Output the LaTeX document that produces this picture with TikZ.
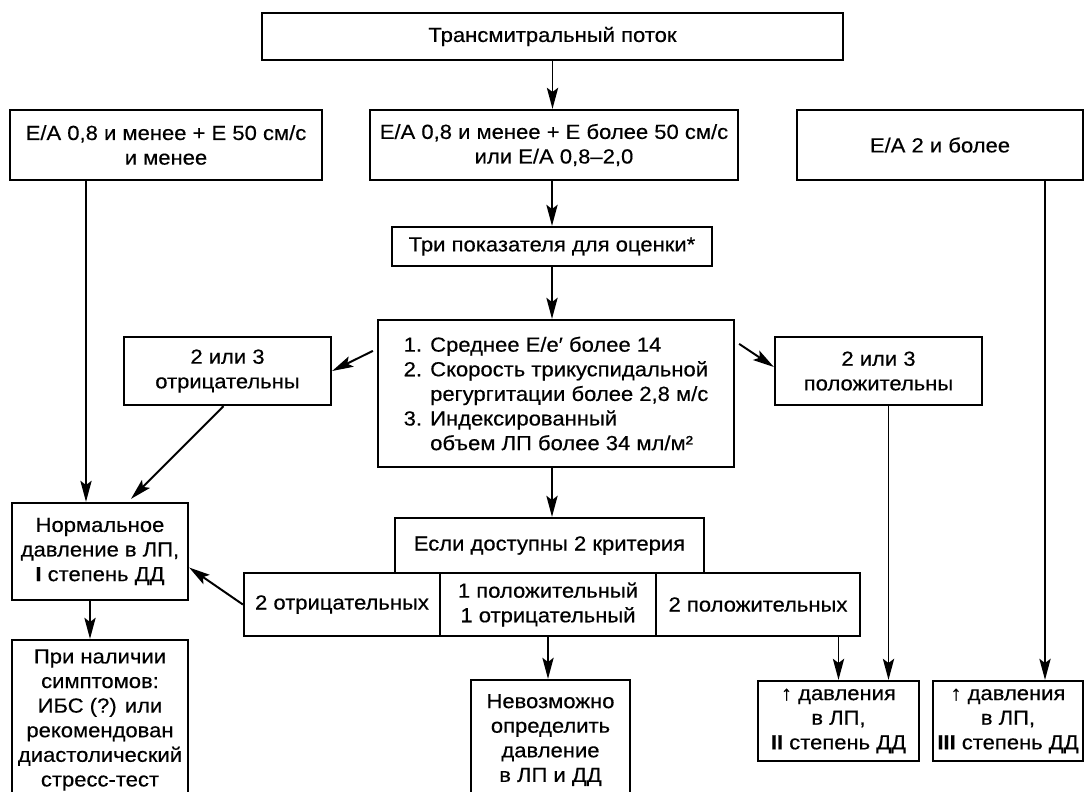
\documentclass[tikz,border=0pt]{standalone}
\usepackage{fontspec}
\setmainfont{Liberation Sans}[FakeStretch=1.08,FakeBold=0.4]
\usetikzlibrary{arrows.meta,calc}

\begin{document}
\begin{tikzpicture}[
    x=0.025cm, y=-0.025cm,
    box/.style={draw, line width=1.6pt, align=center, inner sep=1pt,
        font=\fontsize{14.5}{17.5}\selectfont},
    dims/.style 2 args={minimum width=#1*0.025cm, minimum height=#2*0.025cm},
    arr/.style={line width=1.4pt, -{Stealth[length=15pt,width=8pt,inset=3pt]}}
]
\useasboundingbox (0,0) rectangle (1085,791);
\clip (0,0) rectangle (1085,791);

% Top
\node[box, dims={581}{47}] (flow) at (552.5,36.5) {Трансмитральный поток};

% E/A groups
\node[box, dims={312}{70}] (lowEA) at (166,145) {E/A 0,8 и менее + E 50 см/с\\и менее};
\node[box, dims={368}{70}] (midEA) at (554,145) {E/A 0,8 и менее + E более 50 см/с\\или E/A 0,8–2,0};
\node[box, dims={286}{70}] (highEA) at (940,145) {E/A 2 и более};

% Three indices
\node[box, dims={320}{39}] (three) at (552,246.5) {Три показателя для оценки*};
\node[box, dims={356}{147}, align=left] (crit) at (556,393.5) {1. Среднее E/e′ более 14\\
    2. Скорость трикуспидальной\\
    \phantom{2. }регургитации более 2,8 м/с\\
    3. Индексированный\\
    \phantom{3. }объем ЛП более 34 мл/м²};
\node[box, dims={207}{68}] (neg) at (227.5,371) {2 или 3\\отрицательны};
\node[box, dims={207}{68}] (pos) at (878.5,371) {2 или 3\\положительны};

% Two criteria
\node[box, dims={309}{55}] (avail) at (549.5,545.5) {Если доступны 2 критерия};
\node[box, dims={196}{63}] (twoneg) at (342,604.5) {2 отрицательных};
\node[box, dims={216}{63}] (mixed) at (548,604.5) {1 положительный\\1 отрицательный};
\node[box, dims={204}{63}] (twopos) at (758,604.5) {2 положительных};

% Results
\node[box, dims={176}{97}] (normal) at (100,551.5) {Нормальное\\давление в ЛП,\\\textbf{I} степень ДД};
\node[box, dims={176}{160}] (symptoms) at (100,720) {При наличии\\симптомов:\\ИБС (?) или\\рекомендован\\диастолический\\стресс-тест};
\node[box, dims={159}{120}] (unknown) at (550.5,740) {Невозможно\\определить\\давление\\в ЛП и ДД};
\node[box, dims={161}{80}] (grade2) at (838.5,721) {↑ давления\\в ЛП,\\\textbf{II} степень ДД};
\node[box, dims={150}{80}] (grade3) at (1008,721) {↑ давления\\в ЛП,\\\textbf{III} степень ДД};

% Helper points on the long verticals
\coordinate (normIn) at ($(normal.north)+(-14,0)$);
\coordinate (normOut) at ($(normal.south)+(-10,0)$);
\coordinate (posOut) at ($(pos.south)+(10,0)$);
\coordinate (g3In) at ($(grade3.north)+(37,0)$);

% Arrows
\draw[arr] (flow.south) -- (flow.south |- midEA.north);
\draw[arr] (three.north |- midEA.south) -- (three.north);
\draw[arr] (three.south) -- (three.south |- crit.north);
\draw[arr] ($(crit.north west)+(-4,32)$) -- (neg.east);
\draw[arr] ($(crit.north east)+(4,25)$) -- ($(pos.west)+(0,-4)$);
\draw[arr] (three.south |- crit.south) -- (three.south |- avail.north);
\draw[arr] (normIn |- lowEA.south) -- (normIn);
\draw[arr] ($(neg.south)+(-4,0)$) -- ($(normal.north)+(31,-3)$);
\draw[arr] (twoneg.west) -- ($(normal.east)+(0,16)$);
\draw[arr] (normOut) -- (normOut |- symptoms.north);
\draw[arr] (mixed.south) -- (mixed.south |- unknown.north);
\draw[arr] (grade2.north |- twopos.south) -- (grade2.north);
\draw[arr] (posOut) -- (posOut |- grade2.north);
\draw[arr] (g3In |- highEA.south) -- (g3In);

\end{tikzpicture}
\end{document}
